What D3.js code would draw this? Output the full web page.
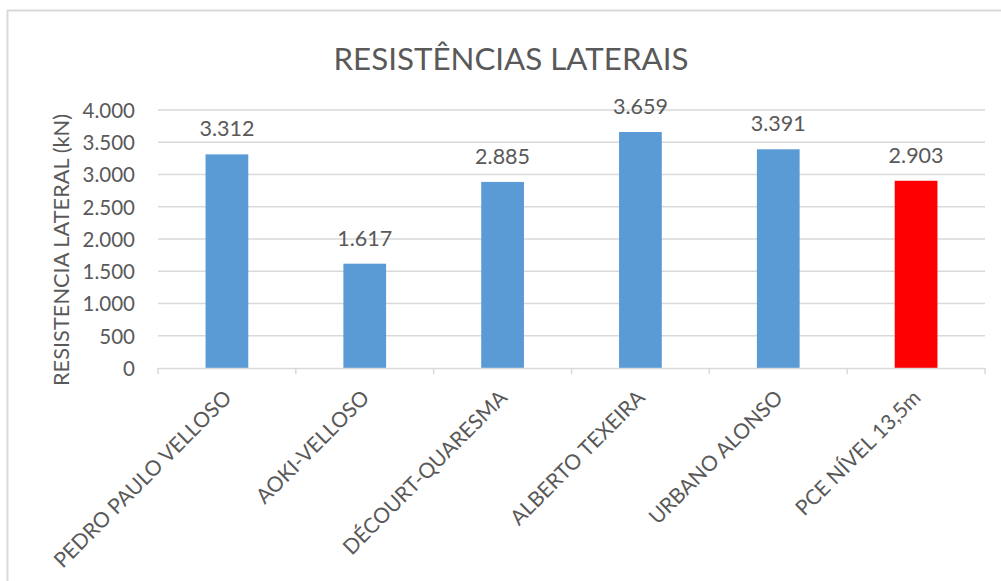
<!DOCTYPE html>
<html>
<head>
<meta charset="utf-8">
<script src="https://cdn.jsdelivr.net/npm/d3@7"></script>
<style>
  html, body { margin: 0; padding: 0; background: #fff; }
  svg { display: block; font-family: Lato, "Open Sans", sans-serif; }
</style>
</head>
<body>
<svg id="chart" width="1001" height="581"></svg>
<script>
// Lateral resistance per method (kN)
const categories = ["PEDRO PAULO VELLOSO", "AOKI-VELLOSO", "DÉCOURT-QUARESMA", "ALBERTO TEXEIRA", "URBANO ALONSO", "PCE NÍVEL 13,5m"];
const values = [3312, 1617, 2885, 3659, 3391, 2903];
const yTicks = [0, 500, 1000, 1500, 2000, 2500, 3000, 3500, 4000];
const highlight = "PCE NÍVEL 13,5m";

const title = "RESISTÊNCIAS LATERAIS";
const yTitle = "RESISTENCIA LATERAL (kN)";

const svg = d3.select("#chart");
const textColor = "#595959";
const gridColor = "#d9d9d9";

const plotLeft = 158, plotRight = 985, plotTop = 110, plotBottom = 368;

const fmt = v => d3.format(",")(v).replace(/,/g, ".");

// chart frame
svg.append("rect")
  .attr("x", 7.5).attr("y", 10.5)
  .attr("width", 1010).attr("height", 600)
  .attr("fill", "#fff").attr("stroke", gridColor).attr("stroke-width", 2);

const x = d3.scaleBand().domain(categories).range([plotLeft, plotRight])
  .paddingInner(0.69).paddingOuter(0.345);
const y = d3.scaleLinear().domain([0, 4000]).range([plotBottom, plotTop]);

// gridlines
svg.append("g").selectAll("line")
  .data(yTicks.filter(t => t > 0))
  .join("line")
  .attr("x1", plotLeft).attr("x2", plotRight)
  .attr("y1", d => y(d)).attr("y2", d => y(d))
  .attr("stroke", gridColor).attr("stroke-width", 1.3);

// y axis labels
const yAxis = d3.axisLeft(y).tickValues(yTicks).tickFormat(fmt).tickSize(0).tickPadding(0);
const gy = svg.append("g").attr("transform", `translate(135,0)`).call(yAxis);
gy.select(".domain").remove();
gy.selectAll("text")
  .attr("fill", textColor)
  .style("font-size", "20.5px")
  .style("font-family", "Lato, sans-serif")
  .attr("dy", "0.36em");

// bars
svg.append("g").selectAll("rect")
  .data(categories.map((c, i) => ({ c, v: values[i] })))
  .join("rect")
  .attr("x", d => x(d.c))
  .attr("width", x.bandwidth())
  .attr("y", d => y(d.v))
  .attr("height", d => y(0) - y(d.v))
  .attr("fill", d => d.c === highlight ? "#ff0000" : "#5b9bd5");

// value labels
svg.append("g").selectAll("text")
  .data(categories.map((c, i) => ({ c, v: values[i] })))
  .join("text")
  .attr("x", d => x(d.c) + x.bandwidth() / 2)
  .attr("y", d => y(d.v) - 18)
  .attr("text-anchor", "middle")
  .attr("fill", textColor)
  .style("font-size", "21.5px")
  .text(d => fmt(d.v));

// x axis: baseline with ticks at category boundaries
const step = x.step();
const boundaries = d3.range(categories.length + 1).map(i => plotLeft + i * step);
const gx = svg.append("g");
gx.append("line")
  .attr("x1", plotLeft).attr("x2", plotRight)
  .attr("y1", plotBottom + 0.5).attr("y2", plotBottom + 0.5)
  .attr("stroke", gridColor).attr("stroke-width", 1.5);
gx.selectAll("line.tick")
  .data(boundaries)
  .join("line")
  .attr("class", "tick")
  .attr("x1", d => d).attr("x2", d => d)
  .attr("y1", plotBottom).attr("y2", plotBottom + 6)
  .attr("stroke", gridColor).attr("stroke-width", 1.5);

// rotated category labels
svg.append("g").selectAll("text")
  .data(categories)
  .join("text")
  .attr("transform", d => `translate(${x(d) + x.bandwidth() / 2 + 6},${plotBottom + 31}) rotate(-45)`)
  .attr("text-anchor", "end")
  .attr("fill", textColor)
  .style("font-size", "21px")
  .text(d => d);

// title
svg.append("text")
  .attr("x", 511).attr("y", 70)
  .attr("text-anchor", "middle")
  .attr("fill", textColor)
  .style("font-size", "31px")
  .style("font-weight", 400)
  .attr("textLength", 355)
  .attr("lengthAdjust", "spacingAndGlyphs")
  .text(title);

// y axis title
svg.append("text")
  .attr("transform", `translate(69,250) rotate(-90)`)
  .attr("text-anchor", "middle")
  .attr("fill", textColor)
  .style("font-size", "21.8px")
  .text(yTitle);
</script>
</body>
</html>
